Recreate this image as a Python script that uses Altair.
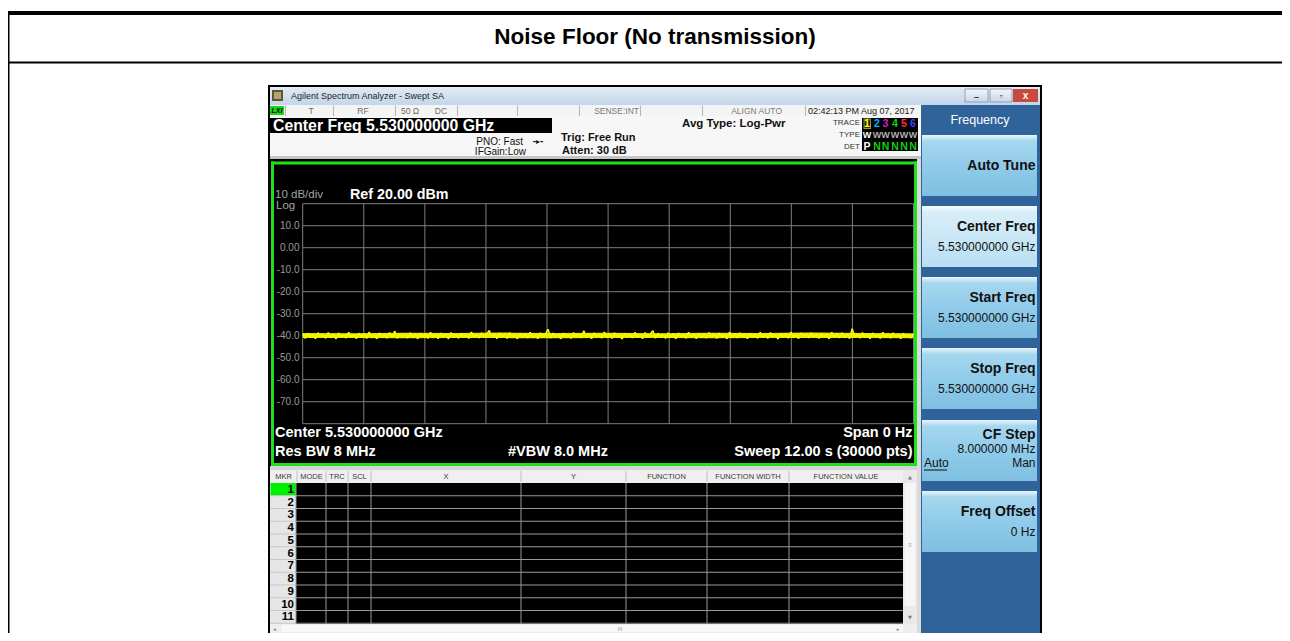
import altair as alt
import pandas as pd

# ---------------- data (texts and values) ----------------
chart_title = "Noise Floor (No transmission)"
window_title = "Agilent Spectrum Analyzer - Swept SA"
status_items = ["T", "RF", "50 Ω", "DC"]
sense_label = "SENSE:INT"
align_label = "ALIGN AUTO"
timestamp = "02:42:13 PM Aug 07, 2017"
center_freq_banner = "Center Freq 5.530000000 GHz"
pno_lines = ["PNO: Fast", "IFGain:Low"]
trig_lines = ["Trig: Free Run", "Atten: 30 dB"]
avg_type = "Avg Type: Log-Pwr"
trace_row_labels = ["TRACE", "TYPE", "DET"]
trace_numbers = ["1", "2", "3", "4", "5", "6"]
trace_number_colors = ["#ffff00", "#00b4ff", "#d020d0", "#10d010", "#ff3030", "#4040ff"]
trace_types = ["W", "W", "W", "W", "W", "W"]
detectors = ["P", "N", "N", "N", "N", "N"]
scale_label = "10 dB/div"
scale_type = "Log"
ref_label = "Ref 20.00 dBm"
y_tick_values = [10, 0, -10, -20, -30, -40, -50, -60, -70]
y_tick_labels = ["10.0", "0.00", "-10.0", "-20.0", "-30.0", "-40.0", "-50.0", "-60.0", "-70.0"]
grid_levels_db = [20, 10, 0, -10, -20, -30, -40, -50, -60, -70, -80]
grid_points = [0, 3000, 6000, 9000, 12000, 15000, 18000, 21000, 24000, 27000, 30000]
sweep_points = 30000
trace_db = [
    -39.3, -41.2, -38.9, -40.7, -39.5, -41.4, -38.7, -40.3, -39.8, -41.1, -38.6, -40.9, -39.2, -41.5, -38.8, -40.4, -39.6, -41.0, -38.5, -40.8,
    -39.4, -41.3, -38.9, -40.6, -39.1, -41.2, -38.4, -40.9, -39.7, -41.4, -38.8, -40.5, -39.3, -41.1, -38.6, -40.7, -37.9, -41.2, -39.0, -40.6,
    -39.5, -41.0, -38.7, -40.8, -39.2, -41.4, -38.9, -40.3, -39.6, -41.2, -38.5, -40.9, -39.4, -41.3, -38.8, -40.6, -39.1, -41.5, -38.6, -40.4,
    -39.7, -41.1, -38.9, -40.7, -39.3, -41.2, -38.4, -40.8, -39.5, -41.0, -38.7, -40.5, -39.2, -37.6, -40.9, -39.0, -41.3, -38.8, -40.6, -39.4,
    -41.2, -38.6, -40.4, -39.8, -41.4, -38.9, -40.7, -39.1, -41.0, -38.5, -40.9, -39.6, -41.3, -38.7, -40.5, -39.3, -37.1, -41.1, -38.8, -40.6,
    -39.2, -41.4, -38.9, -40.3, -39.7, -41.2, -38.6, -40.8, -39.4, -41.0, -37.8, -40.7, -39.0, -41.3, -38.8, -40.5, -39.5, -41.1, -38.4, -40.9,
    -39.3, -41.2, -38.7, -40.6, -39.6, -41.5, -38.9, -40.4, -39.1, -41.0, -38.5, -40.8, -39.8, -41.3, -38.6, -40.7, -39.2, -37.7, -41.1, -38.9,
    -40.5, -39.4, -41.2, -38.7, -40.9, -39.0, -41.4, -38.8, -40.3, -39.7, -41.1, -38.5, -40.6, -39.3, -41.3, -38.9, -40.8, -39.5, -41.0, -38.6,
    -40.4, -39.2, -41.2, -38.8, -40.7, -39.6, -41.4, -38.4, -40.9, -39.1, -41.0, -38.7, -40.5, -39.4, -41.3, -38.9, -40.6, -39.8, -41.1, -38.5,
    -40.8, -39.3, -41.2, -38.6, -40.4, -39.7, -41.5, -38.9, -40.7, -39.0, -41.1, -38.4, -40.9, -39.5, -41.3, -38.8, -40.5, -39.2, -41.0, -38.7,
    -40.6, -39.4, -41.2, -38.9, -40.3, -39.6, -41.4, -38.5, -40.8, -39.1, -41.0, -38.7, -40.9, -39.3, -41.3, -36.8, -40.6, -39.5, -41.1, -38.6,
    -40.7, -39.2, -41.4, -38.8, -40.4, -39.7, -41.2, -38.5, -40.9, -39.0, -41.1, -38.7, -40.5, -39.4, -41.3, -38.9, -40.6, -39.6, -41.0, -39.2,
]
# envelope of the dense noise band, read every 2500 sweep points
band_points = [0, 2500, 5000, 7500, 10000, 12500, 15000, 17500, 20000, 22500, 25000, 27500, 30000]
band_high_db = [-38.8, -38.9, -38.7, -38.8, -38.6, -38.8, -38.7, -38.9, -38.7, -38.8, -38.6, -38.8, -38.9]
band_low_db = [-41.1, -41.0, -41.2, -41.0, -41.1, -41.2, -41.0, -41.1, -41.2, -41.0, -41.1, -41.0, -41.2]
footer_left = ["Center 5.530000000 GHz", "Res BW 8 MHz"]
footer_mid = "#VBW 8.0 MHz"
footer_right = ["Span 0 Hz", "Sweep  12.00 s (30000 pts)"]
marker_columns = ["MKR", "MODE", "TRC", "SCL", "X", "Y", "FUNCTION", "FUNCTION WIDTH", "FUNCTION VALUE"]
marker_ids = ["1", "2", "3", "4", "5", "6", "7", "8", "9", "10", "11"]
menu_title = "Frequency"
softkey_labels = ["Auto Tune", "Center Freq", "Start Freq", "Stop Freq", "CF Step", "Freq Offset"]
softkey_values = ["", "5.530000000 GHz", "5.530000000 GHz", "5.530000000 GHz", "8.000000 MHz", "0 Hz"]
cf_step_modes = ["Auto", "Man"]

# ---------------- layout (page pixels) ----------------
FONT = "Liberation Sans"
OX, OY = 8, 8
W, H = 1274, 625
GREEN = "#1ee01e"
YELLOW = "#f8f800"


def rect_layer(rows, **mark):
    df = pd.DataFrame(rows, columns=["x1", "y1", "x2", "y2", "c"])
    df["x1"] -= OX
    df["x2"] -= OX
    df["y1"] -= OY
    df["y2"] -= OY
    enc = dict(x=alt.X("x1:Q", scale=None, axis=None), x2="x2:Q",
               y=alt.Y("y1:Q", scale=None, axis=None), y2="y2:Q")
    if "fill" not in mark:
        enc["color"] = alt.Color("c:N", scale=None, legend=None)
    return alt.Chart(df).mark_rect(**mark).encode(**enc)


def text_layer(rows, size, weight="normal", align="left", font=FONT, **mark):
    df = pd.DataFrame(rows, columns=["x", "y", "t", "c"])
    df["x"] -= OX
    df["y"] -= OY
    return alt.Chart(df).mark_text(align=align, baseline="middle", font=font, fontSize=size,
                                   fontWeight=weight, **mark).encode(
        x=alt.X("x:Q", scale=None, axis=None), y=alt.Y("y:Q", scale=None, axis=None),
        text="t:N", color=alt.Color("c:N", scale=None, legend=None))


def grad(stops):
    return alt.Gradient(gradient="linear", x1=0, x2=0, y1=0, y2=1,
                        stops=[alt.GradientStop(color=c, offset=o) for o, c in stops])


layers = []

# outer report frame
layers.append(rect_layer([
    (6, 11, 1290, 15, "#000000"),
    (6, 11, 9.5, 641, "#000000"),
    (6, 61.5, 1290, 63.5, "#000000"),
    (268, 85, 1042, 641, "#000000"),
]))
layers.append(text_layer([(655, 36.5, chart_title, "#000000")], 22.5, "bold", "center"))

# window title bar
layers.append(rect_layer([(270, 87, 1040, 105, "")],
                         fill=grad([(0, "#e2ebf5"), (0.5, "#d2e0ef"), (1, "#c3d5ea")])))
layers.append(rect_layer([
    (272, 90, 283, 101, "#5d573a"),
    (274, 92, 281, 99, "#b4a46e"),
    (1013, 89, 1038, 102, "#c94a3d"),
]))
layers.append(rect_layer([(965, 89, 988, 102, ""), (990, 89, 1012, 102, "")],
                         fill=grad([(0, "#f2f6fb"), (1, "#c9d7e8")]), stroke="#8292a8", strokeWidth=0.8))
layers.append(text_layer([(291, 96, window_title, "#1e1e1e")], 9))
layers.append(text_layer([(1025.5, 95.5, "x", "#ffffff")], 10, "bold", "center"))
layers.append(text_layer([(976.5, 97, "–", "#333333"), (1001, 95.5, "▫", "#333333")], 9, "bold", "center"))

# status row + header
status_rows = [
    (270, 105, 921, 116, "#f4f4f4"),
    (270, 106, 284, 115, "#18d818"),
]
for xd in [285, 333, 395, 457, 517, 579, 640, 702, 805]:
    status_rows.append((xd, 105.5, xd + 1, 116, "#b5b5b5"))
status_rows += [
    (270, 116, 921, 156, "#f7f7f7"),
    (270, 118, 552, 133, "#000000"),
    (270, 156, 921, 159, "#c4c4c4"),
    (862, 118, 918, 151, "#000000"),
    (863.5, 118.5, 871, 129, "#8c9a40"),
    (864.5, 119.5, 870, 128, "#262610"),
]
layers.append(rect_layer(status_rows))
layers.append(text_layer([(277, 110.5, "LXI", "#000000")], 7, "bold", "center", fontStyle="italic"))
layers.append(text_layer([(311, 111, status_items[0], "#6a6a6a"), (363, 111, status_items[1], "#6a6a6a"),
                          (410, 111, status_items[2], "#6a6a6a"), (441, 111, status_items[3], "#6a6a6a")],
                         8.5, "normal", "center"))
layers.append(text_layer([(639, 111, sense_label, "#7a7a7a"), (782, 111, align_label, "#7a7a7a")],
                         8.5, "normal", "right"))
layers.append(text_layer([(808, 111, timestamp, "#1a1a1a")], 9))
layers.append(text_layer([(273, 125.5, center_freq_banner, "#ffffff")], 15.8, "bold"))
layers.append(text_layer([(523, 141.5, pno_lines[0], "#111111"), (526, 152, pno_lines[1], "#111111")],
                         10, "normal", "right"))
layers.append(text_layer([(538, 141.5, "-▸-", "#111111")], 8, "bold", "center", font="DejaVu Sans"))
layers.append(text_layer([(561, 137.5, trig_lines[0], "#111111"), (562, 151, trig_lines[1], "#111111")],
                         11, "bold"))
layers.append(text_layer([(682, 123.5, avg_type, "#111111")], 11.5, "bold"))
layers.append(text_layer([(860, 123, trace_row_labels[0], "#333333"), (860, 134.5, trace_row_labels[1], "#333333"),
                          (860, 146.5, trace_row_labels[2], "#333333")], 8, "normal", "right"))
tx = [867, 877, 885.5, 895, 904, 913]
layers.append(text_layer([(tx[i], 123.5, trace_numbers[i], trace_number_colors[i]) for i in range(6)],
                         10.5, "bold", "center"))
layers.append(text_layer([(tx[i], 135, trace_types[i], "#ffffff" if i == 0 else "#b0b0b0") for i in range(6)],
                         9, "bold", "center"))
layers.append(text_layer([(tx[i], 146.5, detectors[i], "#ffffff" if i == 0 else "#10d010") for i in range(6)],
                         10.5, "bold", "center"))

# spectrum display area
disp_rows = [
    (270, 159, 917, 467, "#000000"),
    (917, 159, 921, 633, "#dadada"),
    (271, 161.5, 917, 164.5, GREEN),
    (271, 463, 917, 466, GREEN),
    (271, 161.5, 274, 466, GREEN),
    (914, 161.5, 917, 466, GREEN),
]
layers.append(rect_layer(disp_rows))

GX0, GX1 = 302.7, 913.5
GY0, GY1 = 203.7, 423.7
xs = alt.Scale(domain=[grid_points[0], grid_points[-1]], range=[GX0 - OX, GX1 - OX], nice=False, zero=False)
ys = alt.Scale(domain=[grid_levels_db[-1], grid_levels_db[0]], range=[GY1 - OY, GY0 - OY], nice=False, zero=False)

vgrid = pd.DataFrame({"pt": grid_points})
layers.append(alt.Chart(vgrid).mark_rule(color="#7e7e7e", strokeWidth=1).encode(
    x=alt.X("pt:Q", scale=xs, axis=None), y=alt.value(GY0 - OY), y2=alt.value(GY1 - OY)))
hgrid = pd.DataFrame({"db": grid_levels_db})
layers.append(alt.Chart(hgrid).mark_rule(color="#7e7e7e", strokeWidth=1).encode(
    y=alt.Y("db:Q", scale=ys, axis=None), x=alt.value(GX0 - OX), x2=alt.value(GX1 - OX)))
ticks = pd.DataFrame({"db": y_tick_values, "lab": y_tick_labels})
layers.append(alt.Chart(ticks).mark_text(align="right", baseline="middle", font=FONT, fontSize=10,
                                         color="#9a9a9a").encode(
    y=alt.Y("db:Q", scale=ys, axis=None), x=alt.value(299.5 - OX), text="lab:N"))
band = pd.DataFrame({"pt": band_points, "hi": band_high_db, "lo": band_low_db})
layers.append(alt.Chart(band).mark_area(color=YELLOW, opacity=0.95).encode(
    x=alt.X("pt:Q", scale=xs, axis=None), y=alt.Y("hi:Q", scale=ys, axis=None), y2="lo:Q"))
n = len(trace_db)
trace = pd.DataFrame({"pt": [i * sweep_points / (n - 1) for i in range(n)], "db": trace_db})
layers.append(alt.Chart(trace).mark_line(color=YELLOW, strokeWidth=1.6, strokeJoin="bevel").encode(
    x=alt.X("pt:Q", scale=xs, axis=None), y=alt.Y("db:Q", scale=ys, axis=None)))

layers.append(text_layer([(275, 195, scale_label, "#a4a4a4"), (276, 205.5, scale_type, "#a4a4a4")], 11.5))
layers.append(text_layer([(350, 194.5, ref_label, "#ffffff")], 14.3, "bold"))
layers.append(text_layer([(275, 433, footer_left[0], "#ffffff"), (275, 451.5, footer_left[1], "#ffffff"),
                          (508, 451.5, footer_mid, "#ffffff")], 14.5, "bold"))
layers.append(text_layer([(912.5, 433, footer_right[0], "#ffffff"), (912.5, 451.5, footer_right[1], "#ffffff")],
                         14.5, "bold", "right"))

# marker table
col_bounds = [270, 297, 326, 348, 371, 521, 626, 707, 789, 903]
ROW0, ROWH = 483, 12.75
tab_rows = [
    (270, 466, 917, 470, "#d4d4d4"),
    (270, 470, 903, 483, "#efefef"),
]
for xb in col_bounds[1:-1]:
    tab_rows.append((xb - 0.5, 471, xb + 0.5, 482, "#c2c2c2"))
tab_rows += [
    (270, 483, 296, 624, "#e6e6e6"),
    (270.5, 483, 296, ROW0 + ROWH, "#00f000"),
    (296, 483, 903, 624, "#000000"),
]
for k in range(1, len(marker_ids) + 1):
    yl = ROW0 + k * ROWH
    tab_rows.append((296, yl - 0.5, 903, yl + 0.5, "#9a9a9a"))
    tab_rows.append((270, yl - 0.5, 296, yl + 0.5, "#c8c8c8"))
for xb in [296] + col_bounds[2:-1]:
    tab_rows.append((xb - 0.5, 483, xb + 0.5, 624, "#9a9a9a"))
tab_rows += [
    (903, 470, 917, 624, "#e9e9e9"),
    (904.5, 483, 915.5, 606, "#f6f6f6"),
    (270, 624, 917, 633, "#eeeeee"),
    (282, 625, 903, 632, "#f8f8f8"),
]
layers.append(rect_layer(tab_rows))
col_centers = [(col_bounds[i] + col_bounds[i + 1]) / 2 for i in range(len(marker_columns))]
layers.append(text_layer([(col_centers[i], 476.5, marker_columns[i], "#3a3a3a") for i in range(len(marker_columns))],
                         7.5, "normal", "center"))
layers.append(text_layer([(294, ROW0 + (k + 0.5) * ROWH + 0.5, marker_ids[k], "#000000") for k in range(len(marker_ids))],
                         11.5, "bold", "right"))
layers.append(text_layer([(910, 476.5, "▲", "#777777"), (910, 617, "▼", "#777777"),
                          (274.5, 628.5, "◂", "#777777"), (898, 628.5, "▸", "#777777")], 5, "normal", "center",
                         font="DejaVu Sans"))
layers.append(text_layer([(910, 545, "≡", "#a0a0a0"), (620, 628.5, "III", "#a0a0a0")], 6, "normal", "center"))

# right soft-key panel
layers.append(rect_layer([(921, 105, 1040, 633, "#30639a")]))
key_tops = [135, 206, 277, 348, 420, 491]
KEY_H = 61
normal_keys = [(922, t, 1037, t + KEY_H, "") for i, t in enumerate(key_tops) if i != 1]
layers.append(rect_layer(normal_keys, fill=grad([(0, "#eaf6fc"), (0.1, "#a6d7ef"), (0.5, "#90cbea"), (1, "#7fbfe1")])))
layers.append(rect_layer([(922, key_tops[1], 1037, key_tops[1] + KEY_H, "")],
                         fill=grad([(0, "#f7fbfe"), (0.1, "#d8eef9"), (0.5, "#cae7f6"), (1, "#b9dff3")])))
layers.append(text_layer([(980, 119.5, menu_title, "#ffffff")], 12.5, "normal", "center"))
label_y = [key_tops[0] + 31, key_tops[1] + 21, key_tops[2] + 21, key_tops[3] + 21, key_tops[4] + 15, key_tops[5] + 21]
value_y = [0, key_tops[1] + 41, key_tops[2] + 41, key_tops[3] + 41, key_tops[4] + 29, key_tops[5] + 41]
layers.append(text_layer([(1035.5, label_y[i], softkey_labels[i], "#111111") for i in range(6)], 14, "bold", "right"))
layers.append(text_layer([(1035.5, value_y[i], softkey_values[i], "#111111") for i in range(1, 6)]
                         + [(1035.5, key_tops[4] + 43, cf_step_modes[1], "#111111")], 12, "normal", "right"))
layers.append(text_layer([(924, key_tops[4] + 43, cf_step_modes[0], "#111111")], 12))
layers.append(rect_layer([(924, key_tops[4] + 49.5, 947, key_tops[4] + 50.5, "#111111")]))

chart = alt.layer(*layers).properties(
    width=W, height=H, padding=0, autosize="none", background="#ffffff"
).configure_view(stroke=None)

chart.save("out.html", embed_options={"renderer": "svg", "actions": False})
